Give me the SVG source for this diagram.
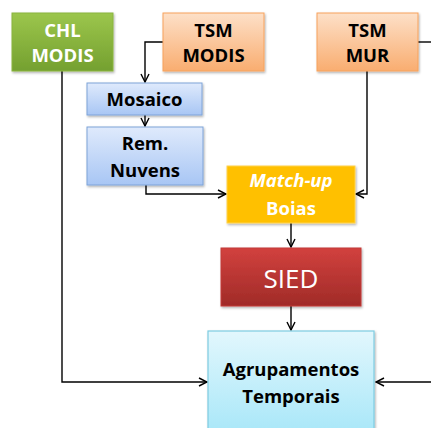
<svg xmlns="http://www.w3.org/2000/svg" width="431" height="428" viewBox="0 0 431 428">
<defs>
<linearGradient id="gGreen" x1="0" y1="0" x2="0" y2="1"><stop offset="0" stop-color="#9cc64c"/><stop offset="1" stop-color="#74a02f"/></linearGradient>
<linearGradient id="gOrange" x1="0" y1="0" x2="0" y2="1"><stop offset="0" stop-color="#fde0c8"/><stop offset="1" stop-color="#f9ad70"/></linearGradient>
<linearGradient id="gBlue" x1="0" y1="0" x2="0" y2="1"><stop offset="0" stop-color="#dfeafc"/><stop offset="1" stop-color="#a8c6f4"/></linearGradient>
<linearGradient id="gRed" x1="0" y1="0" x2="0" y2="1"><stop offset="0" stop-color="#d2413e"/><stop offset="1" stop-color="#a02b28"/></linearGradient>
<linearGradient id="gCyan" x1="0" y1="0" x2="0" y2="1"><stop offset="0" stop-color="#e2f7fd"/><stop offset="1" stop-color="#a4e6f8"/></linearGradient>
<filter id="sh" x="-10%" y="-10%" width="130%" height="130%"><feDropShadow dx="1" dy="1.5" stdDeviation="1.2" flood-color="#000" flood-opacity="0.3"/></filter>
<marker id="arr" viewBox="0 0 10 10" refX="9" refY="5" markerWidth="10" markerHeight="10" markerUnits="userSpaceOnUse" orient="auto"><path d="M1,1 L9,5 L1,9" fill="none" stroke="#000" stroke-width="1.4"/></marker>
</defs>
<style>
.t{font-family:"Open Sans","Liberation Sans",sans-serif;font-weight:bold;font-size:18.5px;text-anchor:middle}
.w{fill:#fff}
.k{fill:#000}
.c{fill:none;stroke:#000;stroke-width:1.4}
</style>
<g id="connectors">
<path class="c" d="M163,42 H145 V82" marker-end="url(#arr)"/>
<path class="c" d="M145,115 V126" marker-end="url(#arr)"/>
<path class="c" d="M146,185 V194 H226" marker-end="url(#arr)"/>
<path class="c" d="M418,42 H432"/>
<path class="c" d="M367,71 V194 H356" marker-end="url(#arr)"/>
<path class="c" d="M291,223 V247" marker-end="url(#arr)"/>
<path class="c" d="M291,306 V330" marker-end="url(#arr)"/>
<path class="c" d="M62,71 V382 H207" marker-end="url(#arr)"/>
<path class="c" d="M432,382 H376" marker-end="url(#arr)"/>
</g>
<g id="chl">
<rect x="12" y="13" width="101" height="58" fill="url(#gGreen)" stroke="#8ab43f" stroke-width="1" filter="url(#sh)"/>
<text class="t w" x="62.5" y="37">CHL</text>
<text class="t w" x="62.5" y="62">MODIS</text>
</g>
<g id="tsm-modis">
<rect x="163" y="13" width="101" height="58" fill="url(#gOrange)" stroke="#f7a25c" stroke-width="1" filter="url(#sh)"/>
<text class="t k" x="213.5" y="37">TSM</text>
<text class="t k" x="213.5" y="62">MODIS</text>
</g>
<g id="tsm-mur">
<rect x="317" y="13" width="101" height="58" fill="url(#gOrange)" stroke="#f7a25c" stroke-width="1" filter="url(#sh)"/>
<text class="t k" x="367.5" y="37">TSM</text>
<text class="t k" x="367.5" y="62">MUR</text>
</g>
<g id="mosaico">
<rect x="87" y="83" width="115" height="32" fill="url(#gBlue)" stroke="#7ea3d8" stroke-width="1" filter="url(#sh)"/>
<text class="t k" x="144.5" y="106">Mosaico</text>
</g>
<g id="rem-nuvens">
<rect x="87" y="127" width="116" height="58" fill="url(#gBlue)" stroke="#7ea3d8" stroke-width="1" filter="url(#sh)"/>
<text class="t k" x="145" y="150">Rem.</text>
<text class="t k" x="145" y="177">Nuvens</text>
</g>
<g id="match-up">
<rect x="227" y="166" width="128" height="57" fill="#ffc000" stroke="#ffd24d" stroke-width="1" filter="url(#sh)"/>
<text class="t w" x="291" y="187" font-style="italic">Match-up</text>
<text class="t w" x="291" y="215">Boias</text>
</g>
<g id="sied">
<rect x="221" y="248" width="140" height="58" fill="url(#gRed)" stroke="#c23a37" stroke-width="1" filter="url(#sh)"/>
<text x="291" y="288" font-family="Open Sans, Liberation Sans, sans-serif" font-size="26" text-anchor="middle" fill="#fff">SIED</text>
</g>
<g id="agrupamentos">
<rect x="208" y="331" width="166" height="110" fill="url(#gCyan)" stroke="#7ecce2" stroke-width="1.2" filter="url(#sh)"/>
<text class="t k" x="291" y="376">Agrupamentos</text>
<text class="t k" x="291" y="403">Temporais</text>
</g>
</svg>
